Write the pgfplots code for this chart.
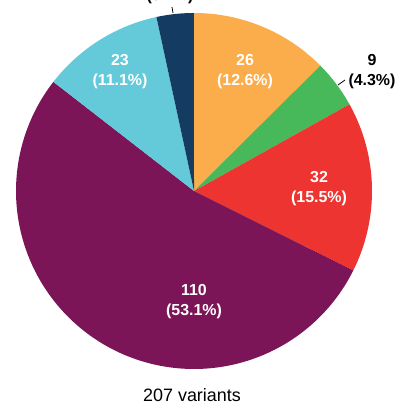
\documentclass[border=0pt]{standalone}
\usepackage{pgfplots}
\pgfplotsset{compat=1.18}
\usepackage{fontspec}
\setmainfont{Liberation Sans}
\definecolor{cOrange}{HTML}{FAAD4A}
\definecolor{cGreen}{HTML}{47B95A}
\definecolor{cRed}{HTML}{EE3431}
\definecolor{cPurple}{HTML}{7B1557}
\definecolor{cLBlue}{HTML}{64C9D9}
\definecolor{cDBlue}{HTML}{143C63}
\def\cx{194}\def\cy{216}\def\R{178}
\begin{document}%
\begin{tikzpicture}
% slice values (total 207): 26, 9, 32, 110, 23, 7
\pgfmathsetmacro\aA{90}
\pgfmathsetmacro\aB{\aA-26/207*360}
\pgfmathsetmacro\aC{\aB-9/207*360}
\pgfmathsetmacro\aD{\aC-32/207*360}
\pgfmathsetmacro\aE{\aD-110/207*360}
\pgfmathsetmacro\aF{\aE-23/207*360}
\pgfmathsetmacro\aG{\aF-7/207*360}
\begin{axis}[
  scale only axis, width=408bp, height=407bp,
  xmin=0, xmax=408, ymin=0, ymax=407,
  hide axis, clip=false,
]
\addplot[fill=cOrange, draw=none, domain=\aB:\aA, samples=80, variable=\t] ({\cx+\R*cos(\t)},{\cy+\R*sin(\t)}) -- (axis cs:\cx,\cy) -- cycle;
\addplot[fill=cGreen, draw=none, domain=\aC:\aB, samples=40, variable=\t] ({\cx+\R*cos(\t)},{\cy+\R*sin(\t)}) -- (axis cs:\cx,\cy) -- cycle;
\addplot[fill=cRed, draw=none, domain=\aD:\aC, samples=80, variable=\t] ({\cx+\R*cos(\t)},{\cy+\R*sin(\t)}) -- (axis cs:\cx,\cy) -- cycle;
\addplot[fill=cPurple, draw=none, domain=\aE:\aD, samples=200, variable=\t] ({\cx+\R*cos(\t)},{\cy+\R*sin(\t)}) -- (axis cs:\cx,\cy) -- cycle;
\addplot[fill=cLBlue, draw=none, domain=\aF:\aE, samples=60, variable=\t] ({\cx+\R*cos(\t)},{\cy+\R*sin(\t)}) -- (axis cs:\cx,\cy) -- cycle;
\addplot[fill=cDBlue, draw=none, domain=\aG:\aF, samples=30, variable=\t] ({\cx+\R*cos(\t)},{\cy+\R*sin(\t)}) -- (axis cs:\cx,\cy) -- cycle;
% leader lines
\addplot[black, line width=0.8pt] coordinates {(338,322) (345,327)};
\addplot[black, line width=0.8pt] coordinates {(173,394) (172,400)};
% labels
\begin{scope}[every node/.style={align=center, font=\fontsize{16}{20}\selectfont\bfseries}]
\node[text=white] at (axis cs:245,335) {26\\(12.6\%)};
\node[text=white] at (axis cs:319,218) {32\\(15.5\%)};
\node[text=white] at (axis cs:194,105) {110\\(53.1\%)};
\node[text=white] at (axis cs:120,335) {23\\(11.1\%)};
\node[text=black] at (axis cs:372,335) {9\\(4.3\%)};
\node[text=black] at (axis cs:170,420) {7\\(3.4\%)};
\end{scope}
\node[font=\fontsize{18}{22}\selectfont] at (axis cs:192,12) {207 variants};
\coordinate (LL) at (axis cs:0,0);
\coordinate (UR) at (axis cs:408,407);
\end{axis}
\pgfresetboundingbox
\path[use as bounding box] (LL) rectangle (UR);
\end{tikzpicture}%
\end{document}
